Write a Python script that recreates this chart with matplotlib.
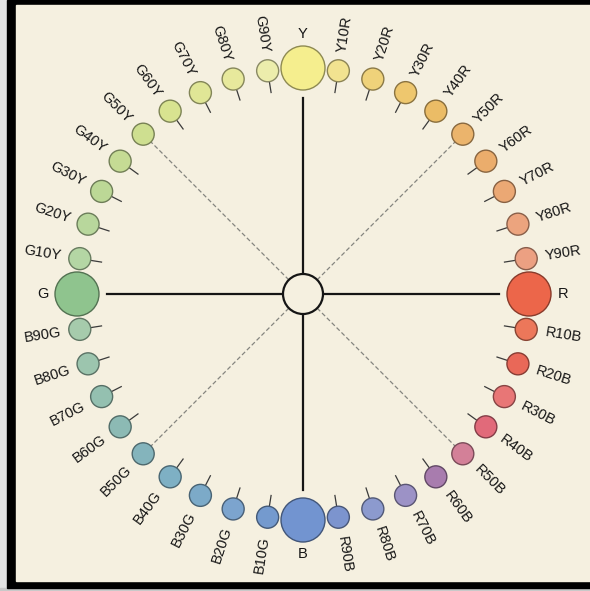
import matplotlib.pyplot as plt
from matplotlib.patches import Circle, Rectangle
import numpy as np

# NCS hue circle: 40 hues, clockwise from Y
hues = ['Y', 'Y10R', 'Y20R', 'Y30R', 'Y40R', 'Y50R', 'Y60R', 'Y70R', 'Y80R', 'Y90R',
        'R', 'R10B', 'R20B', 'R30B', 'R40B', 'R50B', 'R60B', 'R70B', 'R80B', 'R90B',
        'B', 'B10G', 'B20G', 'B30G', 'B40G', 'B50G', 'B60G', 'B70G', 'B80G', 'B90G',
        'G', 'G10Y', 'G20Y', 'G30Y', 'G40Y', 'G50Y', 'G60Y', 'G70Y', 'G80Y', 'G90Y']

colors = ['#F5EE8E', '#F2E390', '#EFD27A', '#EEC76E', '#EBBC66', '#EBB46C', '#EBAD6C', '#EBA874', '#ECA47E', '#ECA082',
          '#EC664A', '#EC775A', '#E96858', '#E87676', '#E16A7A', '#D38098', '#A87CAE', '#9C92C6', '#8C9ACE', '#7C94CE',
          '#7294D0', '#749ACE', '#7CA4CE', '#7CAAC8', '#7EB0C4', '#84B4BC', '#8CBAB4', '#94C0B0', '#9CC5AE', '#A6CBAC',
          '#8FC48E', '#B4D6A4', '#B8D79C', '#BCD896', '#C5DB94', '#CEDF90', '#D8E390', '#E0E696', '#E7E99C', '#ECEDAC']

#%% geometry (pixels)
cx, cy = 303, 294
R_ring = 226
r_small = 11
r_big = 22
r_mid = 20

fig = plt.figure(figsize=(5.9, 5.91), dpi=100, facecolor='white')
ax = fig.add_axes([0, 0, 1, 1])
ax.set_xlim(0, 590)
ax.set_ylim(591, 0)
ax.set_aspect('equal')
ax.axis('off')

# frame + paper
ax.add_patch(Rectangle((0, 0), 7, 591, color='#E4E4E4', zorder=0))
ax.add_patch(Rectangle((0, 588), 590, 3, color='#C9C9C9', zorder=0))
ax.add_patch(Rectangle((7, 0), 583, 588, color='black', zorder=0))
ax.add_patch(Rectangle((16, 5), 574, 576, color='#F5F0E0', zorder=0))

def pos(theta, r):
    t = np.radians(theta)
    return cx + r*np.sin(t), cy - r*np.cos(t)

txt = dict(family='Liberation Sans', color='#151515', fontsize=10.5)

for i, (name, col) in enumerate(zip(hues, colors)):
    theta = i * 9.0
    primary = len(name) == 1
    rs = r_big if primary else r_small
    x, y = pos(theta, R_ring)
    edge = tuple(np.array(plt.matplotlib.colors.to_rgb(col)) * 0.58)
    ax.add_patch(Circle((x, y), rs, facecolor=col, edgecolor=edge, lw=1.0, zorder=3))

    if primary:
        # main axis to center
        x0, y0 = pos(theta, r_mid)
        x1, y1 = pos(theta, R_ring - rs - 8)
        ax.plot([x0, x1], [y0, y1], color='#151515', lw=1.6, zorder=2)
        lx, ly = pos(theta, R_ring + rs + 12)
        ax.text(lx, ly, name, ha='center', va='center', **txt)
        continue

    if name[1:3] == '50':
        x0, y0 = pos(theta, r_mid)
        x1, y1 = pos(theta, R_ring - rs)
        ax.plot([x0, x1], [y0, y1], color='#85857F', lw=0.9, ls=(0, (3.5, 2)), zorder=2)
    else:
        x0, y0 = pos(theta, R_ring - rs)
        x1, y1 = pos(theta, R_ring - rs - 11)
        ax.plot([x0, x1], [y0, y1], color='#3A3A3A', lw=0.9, zorder=2)

    lx, ly = pos(theta, R_ring + 19)
    if theta < 180:
        ax.text(lx, ly, name, rotation=90 - theta, ha='left', va='center',
                rotation_mode='anchor', **txt)
    else:
        ax.text(lx, ly, name, rotation=270 - theta, ha='right', va='center',
                rotation_mode='anchor', **txt)

# center circle
ax.add_patch(Circle((cx, cy), r_mid, facecolor='#F5F0E0', edgecolor='#151515', lw=1.6, zorder=3))

plt.savefig('out.png', dpi=100, facecolor=fig.get_facecolor())
